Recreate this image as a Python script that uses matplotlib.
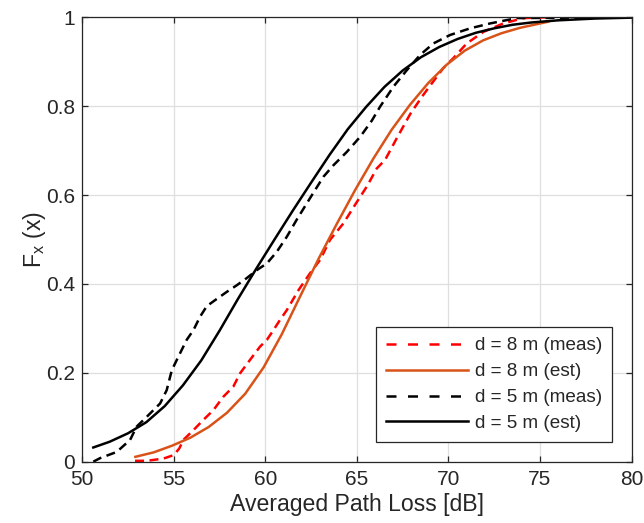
import matplotlib
matplotlib.use("Agg")
import matplotlib.pyplot as plt
from matplotlib.lines import Line2D

plt.rcParams['font.family'] = ['Liberation Sans', 'DejaVu Sans']
plt.rcParams['mathtext.default'] = 'regular'

# ---- data ----
x_8m_meas = [52.88, 53.52, 54.43, 55.0, 55.3, 55.52, 56.07, 56.61, 57.16, 57.7, 58.25, 58.62,
             59.16, 59.71, 60.08, 60.44, 60.8, 61.17, 61.81, 62.44, 62.99, 63.53, 64.26, 64.9,
             65.54, 66.09, 66.54, 67.18, 67.91, 68.55, 69.09, 69.73, 70.27, 71.0, 71.91, 73.0,
             74.1, 75.5]
y_8m_meas = [0.002, 0.002, 0.007, 0.015, 0.03, 0.049, 0.071, 0.094, 0.116, 0.146, 0.169, 0.199,
             0.229, 0.259, 0.274, 0.296, 0.319, 0.341, 0.386, 0.424, 0.454, 0.499, 0.536, 0.578,
             0.619, 0.66, 0.679, 0.728, 0.782, 0.821, 0.851, 0.886, 0.908, 0.941, 0.967, 0.986,
             0.998, 1.0]

x_8m_est = [52.9, 53.9, 54.9, 55.9, 56.9, 57.9, 58.9, 59.9, 60.9, 61.9, 62.9, 63.9, 64.9,
            65.9, 66.9, 67.9, 68.9, 69.9, 70.9, 71.9, 72.9, 73.9, 74.9, 75.46]
y_8m_est = [0.011, 0.021, 0.036, 0.054, 0.078, 0.11, 0.153, 0.212, 0.287, 0.372, 0.456, 0.535,
            0.611, 0.682, 0.747, 0.803, 0.852, 0.893, 0.925, 0.948, 0.964, 0.976, 0.985, 0.99]

x_5m_meas = [50.6, 50.97, 51.88, 52.61, 52.97, 53.52, 54.25, 54.61, 54.89, 55.34, 55.7, 56.07,
             56.43, 56.8, 57.34, 57.89, 58.44, 58.98, 59.53, 60.08, 60.62, 61.17, 61.72, 62.44,
             63.17, 63.72, 64.45, 65.18, 65.81, 66.27, 67.0, 67.73, 68.45, 69.18, 70.09, 71.19,
             72.28, 73.74, 80.0]
y_5m_meas = [0.0, 0.008, 0.022, 0.049, 0.079, 0.101, 0.131, 0.161, 0.206, 0.244, 0.274, 0.296,
             0.326, 0.35, 0.366, 0.382, 0.397, 0.413, 0.431, 0.446, 0.472, 0.506, 0.545, 0.593,
             0.641, 0.667, 0.697, 0.731, 0.767, 0.799, 0.844, 0.881, 0.915, 0.941, 0.96, 0.975,
             0.986, 0.998, 1.0]

x_5m_est = [50.6, 51.5, 52.5, 53.5, 54.5, 55.5, 56.5, 57.5, 58.5, 59.5, 60.5, 61.5, 62.5,
            63.5, 64.5, 65.5, 66.5, 67.5, 68.5, 69.5, 70.5, 71.5, 72.5, 73.5, 74.5, 76.0,
            78.0, 80.0]
y_5m_est = [0.032, 0.045, 0.064, 0.089, 0.125, 0.172, 0.228, 0.295, 0.366, 0.434, 0.5, 0.565,
            0.628, 0.69, 0.748, 0.798, 0.843, 0.88, 0.91, 0.933, 0.951, 0.965, 0.975, 0.983,
            0.988, 0.993, 0.997, 0.999]

labels = ['d = 8 m (meas)', 'd = 8 m (est)', 'd = 5 m (meas)', 'd = 5 m (est)']
x_ticks = [50, 55, 60, 65, 70, 75, 80]
y_ticks = [0, 0.2, 0.4, 0.6, 0.8, 1]
y_tick_labels = ['0', '0.2', '0.4', '0.6', '0.8', '1']

# ---- style ----
TXT = '#262626'
RED = '#ff0000'
ORANGE = '#d95319'
LW = 1.8
plot_dash = (3.6, 2.2)
leg_dash = (4.0, 4.6)

fig = plt.figure(figsize=(6.44, 5.23), dpi=100)
ax = fig.add_axes([0.1278, 0.1172, 0.8528, 0.8499])

ax.plot(x_8m_meas, y_8m_meas, color=RED, lw=LW, dashes=plot_dash)
ax.plot(x_8m_est, y_8m_est, color=ORANGE, lw=LW)
ax.plot(x_5m_meas, y_5m_meas, color='black', lw=LW, dashes=plot_dash)
ax.plot(x_5m_est, y_5m_est, color='black', lw=LW)

ax.set_xlim(50, 80)
ax.set_ylim(0, 1)
ax.set_xticks(x_ticks)
ax.set_yticks(y_ticks)
ax.set_yticklabels(y_tick_labels)
ax.grid(True, color='#dfdfdf', lw=0.9)
ax.set_axisbelow(True)
for s in ax.spines.values():
    s.set_color(TXT)
    s.set_linewidth(0.9)
ax.tick_params(direction='in', top=True, right=True, length=4, width=0.9,
               colors=TXT, labelsize=15)
ax.tick_params(axis='x', pad=6)
ax.tick_params(axis='y', pad=5)

ax.set_xlabel('Averaged Path Loss [dB]', fontsize=16.6, color=TXT, labelpad=3)
ax.set_ylabel('F$_x$ (x)', fontsize=16.6, color=TXT, labelpad=-1)

handles = [
    Line2D([], [], color=RED, lw=LW, dashes=leg_dash),
    Line2D([], [], color=ORANGE, lw=LW),
    Line2D([], [], color='black', lw=LW, dashes=leg_dash),
    Line2D([], [], color='black', lw=LW),
]
leg = ax.legend(handles, labels, loc='lower right', fontsize=13.6, handlelength=4.35,
                handletextpad=0.35, labelspacing=0.46, borderpad=0.52,
                borderaxespad=1.05, fancybox=False, framealpha=1, edgecolor=TXT)
leg.get_frame().set_linewidth(0.9)
for t in leg.get_texts():
    t.set_color(TXT)

fig.savefig('out.png', dpi=100)
